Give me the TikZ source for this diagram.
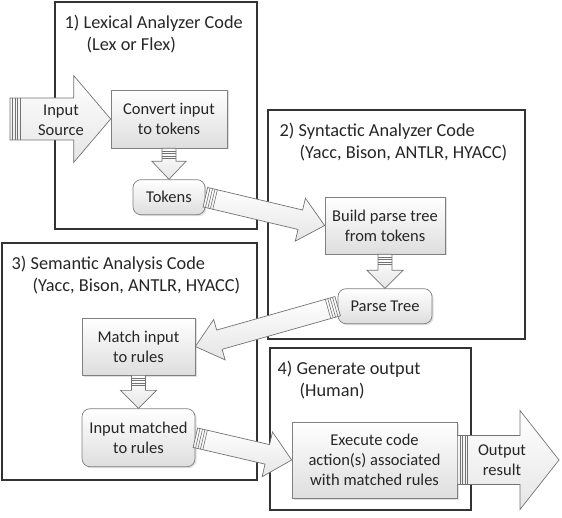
\documentclass[tikz,border=0pt]{standalone}
\usepackage{fontspec}
\setmainfont{Carlito}
\usetikzlibrary{positioning,calc,shadows}
\tikzstyle{frame}=[rectangle, draw=black!80, line width=1.1pt, inner sep=0pt]
\tikzstyle{ftitle}=[anchor=north west, align=left, inner sep=0pt, font=\fontsize{18.3}{22}\selectfont, text=black!85]
\tikzstyle{sbox}=[rectangle, draw=black!50, line width=0.7pt, top color=white, bottom color=black!13,
 drop shadow={shadow xshift=1.5pt, shadow yshift=-1.5pt, opacity=0.25}, align=center,
 font=\fontsize{16.5}{20}\selectfont, text=black!85, inner sep=2pt]
\tikzstyle{rbox}=[sbox, rounded corners=8pt]
\tikzstyle{fatarrow}=[draw=black!55, line width=0.7pt, top color=white, bottom color=black!10]
\tikzstyle{stripe}=[draw=black!55, line width=0.6pt]
\tikzstyle{atext}=[align=center, font=\fontsize{16.5}{20}\selectfont, text=black!85, inner sep=0pt]
% #1 tail, #2 tip, #3 shaft half width, #4 head half width, #5 head length
\newcommand{\fatarrow}[5]{%
  \coordinate (fa-h) at ($(#2)!#5!(#1)$);
  \path[fatarrow] ($(#1)!#3!90:(#2)$) -- ($(fa-h)!#3!90:(#2)$) -- ($(fa-h)!#4!90:(#2)$)
   -- (#2) -- ($(fa-h)!#4!-90:(#2)$) -- ($(fa-h)!#3!-90:(#2)$) -- ($(#1)!#3!-90:(#2)$) -- cycle;
  \foreach \d in {2.5pt,5pt,7.5pt,10pt}{
    \coordinate (fa-s) at ($(#1)!\d!(#2)$);
    \draw[stripe] ($(fa-s)!#3!90:(#2)$) -- ($(fa-s)!#3!-90:(#2)$);
  }
}
\begin{document}
\begin{tikzpicture}[x=1pt, y=-1pt]
\useasboundingbox (0,0) rectangle (562,518);

% code frames
    \node (lex) [frame, minimum width=202, minimum height=227] at (156,115.5) {};
    \node (syn) [frame, minimum width=257, minimum height=229] at (396.5,224.5) {};
    \node (sem) [frame, minimum width=255, minimum height=237] at (129.5,361.5) {};
    \node (gen) [frame, minimum width=201, minimum height=162] at (370.5,429) {};

    \node (lexT) [ftitle] at ($(lex.north west)+(10,13)$) {1) Lexical Analyzer Code\\\hspace{22pt}(Lex or Flex)};
    \node (synT) [ftitle] at ($(syn.north west)+(12,13)$) {2) Syntactic Analyzer Code\\\hspace{20pt}(Yacc, Bison, ANTLR, HYACC)};
    \node (semT) [ftitle] at ($(sem.north west)+(10,13)$) {3) Semantic Analysis Code\\\hspace{21pt}(Yacc, Bison, ANTLR, HYACC)};
    \node (genT) [ftitle] at ($(gen.north west)+(8,13)$) {4) Generate output\\\hspace{22pt}(Human)};

% steps
    \node (conv) [sbox, minimum width=116, minimum height=58] at (169,119) {Convert input\\to tokens};
    \node (tok) [rbox, minimum width=72, minimum height=35, below=31pt of conv] {Tokens};
    \node (build) [sbox, minimum width=120, minimum height=57] at (385,225.5) {Build parse tree\\from tokens};
    \node (ptree) [rbox, minimum width=94, minimum height=35, below=34pt of build] {Parse Tree};
    \node (match) [sbox, minimum width=113, minimum height=57] at (138.5,346.5) {Match input\\to rules};
    \node (imatch) [rbox, minimum width=113, minimum height=58, below=33pt of match] {Input matched\\to rules};
    \node (exec) [sbox, minimum width=165, minimum height=76] at (374.5,460) {Execute code\\action(s) associated\\with matched rules};

    \coordinate (src) at (10,119);
    \coordinate (out) at (559,460);

% arrows
    \fatarrow{src}{conv.west}{21pt}{43.5pt}{37pt}
    \fatarrow{conv.south}{tok.north}{7pt}{17pt}{18pt}
    \fatarrow{tok.east}{build.west}{10pt}{22pt}{25pt}
    \fatarrow{build.south}{ptree.north}{7pt}{18pt}{18pt}
    \fatarrow{ptree.west}{match.east}{10pt}{21pt}{25pt}
    \fatarrow{match.south}{imatch.north}{7pt}{18pt}{18pt}
    \fatarrow{imatch.east}{exec.west}{10pt}{23pt}{25pt}
    \fatarrow{exec.east}{out}{24.5pt}{49.5pt}{39pt}

    \node (srcT) [atext] at (61,120) {Input\\Source};
    \node (outT) [atext] at (502,460) {Output\\result};
\end{tikzpicture}
\end{document}
